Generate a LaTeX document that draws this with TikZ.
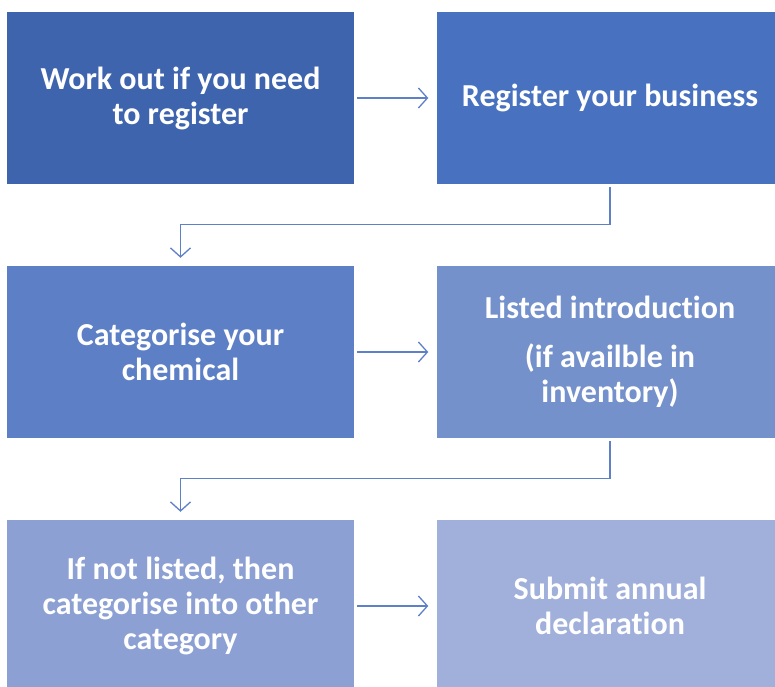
\documentclass[tikz,border=0pt]{standalone}
\usepackage{fontspec}
\setmainfont[Ligatures={NoCommon}]{Carlito}
\usepackage{xcolor}
\usepackage{tikz}
\usetikzlibrary{arrows.meta}
\usetikzlibrary{calc}
\usetikzlibrary{positioning}

\definecolor{stepA}{HTML}{3E64AD}
\definecolor{stepB}{HTML}{4872C0}
\definecolor{stepC}{HTML}{5D7FC6}
\definecolor{stepD}{HTML}{7491CC}
\definecolor{stepE}{HTML}{8CA0D3}
\definecolor{stepF}{HTML}{A0B0DB}
\definecolor{arrowblue}{HTML}{5E80C8}

\begin{document}
\begin{tikzpicture}[x=1pt, y=1pt]
    \tikzstyle{box}=[draw=none, minimum width=347pt, minimum height=172pt, inner sep=0pt,
        align=center, text=white, font=\fontsize{32}{35}\selectfont\bfseries]
    \tikzstyle{arr}=[draw=arrowblue, line width=1.3pt, shorten <=3pt, shorten >=8pt,
        -{Straight Barb[length=9pt, width=20pt, line width=1.3pt]}]
\useasboundingbox (0,0) rectangle (775,-686);
\clip (0,0) rectangle (775,-686);
    \node[box, fill=stepA] (register) at (180.5,-98) {Work out if you need\\to register};
    \node[box, fill=stepB] (business) at (610,-98) {Register your business};
    \node[box, fill=stepC] (categorise) at (180.5,-352) {Categorise your\\chemical};
    \node[box, fill=stepD] (listed) at (610,-352) {Listed introduction\\[14pt](if availble in\\inventory)};
    \node[box, fill=stepE] (other) at (180.5,-606) {If not listed, then\\categorise into other\\category};
    \node[box, fill=stepF] (annual) at (610,-606) {Submit annual\\declaration};
    % connectors
    \draw[arr] (register) -- (business);
    \draw[arr] (business.south) -- ++(0,-40) -| (categorise.north);
    \draw[arr] (categorise) -- (listed);
    \draw[arr] (listed.south) -- ++(0,-40) -| (other.north);
    \draw[arr] (other) -- (annual);
\end{tikzpicture}
\end{document}
